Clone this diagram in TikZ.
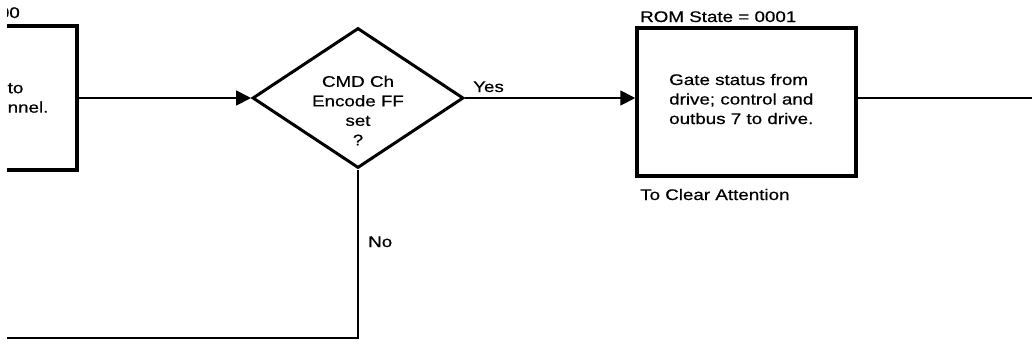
\documentclass[tikz,border=0pt]{standalone}
\usepackage{fontspec}
\setmainfont{Liberation Sans}[FakeStretch=1.22,FakeBold=0.5]
\usetikzlibrary{shapes.geometric,arrows.meta}
\tikzset{
  procbox/.style={draw=black, line width=3.5pt, rectangle, inner sep=0pt},
  decbox/.style={draw=black, line width=3pt, diamond, inner sep=0pt},
  conn/.style={draw=black, line width=1.8pt},
  arr/.style={conn, -{Triangle[length=15pt,width=15pt]}},
  txt/.style={inner sep=0pt, font=\fontsize{15.4}{19.5}\selectfont},
}
\begin{document}
\begin{tikzpicture}[x=1pt,y=-1pt]
\useasboundingbox (0,0) rectangle (1032,346);
\clip (7,0) rectangle (1032,346);
% left (partial) box
\node[procbox, minimum width=200pt, minimum height=144pt] (lbox) at (-23,98) {};
\node[txt, anchor=base east] (lstate) at (20,18) {00};
\node[txt, anchor=west, align=left] (ltext) at (7.5,98) {to\\nnel.};
% decision
\node[decbox, minimum width=211pt, minimum height=140pt] (dec) at (358,98) {};
\node[txt, align=center] (dectext) at (358,110.5) {CMD Ch\\Encode FF\\set\\?};
% right box
\node[procbox, minimum width=219pt, minimum height=148pt] (rbox) at (746.5,102) {};
\node[txt, anchor=west, align=left] (rtext) at (669,99) {Gate status from\\drive; control and\\outbus 7 to drive.};
\node[txt, anchor=base west] (rstate) at (640,22) {ROM State = 0001};
\node[txt, anchor=base west] (rnote) at (640,200) {To Clear Attention};
% free ends
\coordinate (rend) at (1040,98);
\coordinate (nend) at (-10,338);
% connectors
\draw[arr] (lbox.east |- dec.west) -- (dec.west);
\draw[arr] (dec.east) -- (dec.east -| rbox.west);
\draw[conn] (dec.east -| rbox.east) -- (rend);
\draw[conn] (dec.south) |- (nend);
% labels
\node[txt, anchor=base west] (yes) at (473,92) {Yes};
\node[txt, anchor=base west] (no) at (368,247) {No};
\end{tikzpicture}
\end{document}
